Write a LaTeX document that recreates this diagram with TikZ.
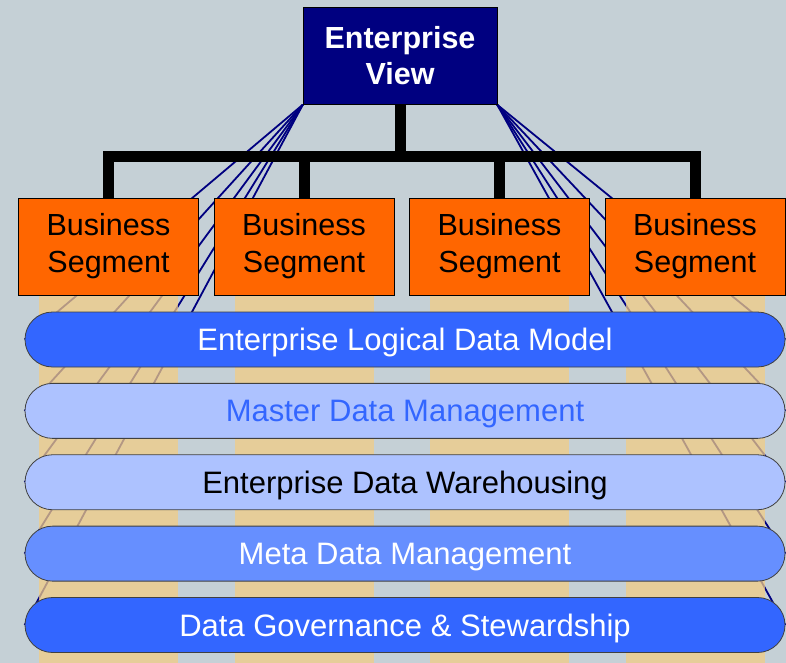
\documentclass[tikz,border=0pt]{standalone}
\usepackage{fontspec}
\setmainfont{Liberation Sans}
\usetikzlibrary{positioning}
\definecolor{bgGray}{RGB}{197,208,214}
\definecolor{evNavy}{RGB}{0,0,128}
\definecolor{segOrange}{RGB}{255,102,0}
\definecolor{colTan}{RGB}{242,204,133}
\definecolor{bandBlue}{RGB}{51,102,255}
\definecolor{bandLight}{RGB}{173,194,255}
\definecolor{bandMid}{RGB}{102,143,255}
\pgfdeclarelayer{bottom}
\pgfdeclarelayer{back}
\pgfsetlayers{bottom,back,main}

\tikzset{
  evbox/.style={draw=black, fill=evNavy, text=white, inner sep=0pt, align=center,
    minimum width=194pt, minimum height=97pt, font=\bfseries\fontsize{30.5}{36}\selectfont},
  segbox/.style={draw=black, fill=segOrange, inner sep=0pt, align=center,
    minimum width=180pt, minimum height=97pt, font=\fontsize{30.5}{37}\selectfont},
  band/.style={draw=black!75, line width=0.8pt, rounded corners=27.5pt, inner sep=0pt,
    minimum width=760pt, minimum height=55pt, text depth=0pt,
    font=\fontsize{31}{36}\selectfont},
  fanline/.style={evNavy, line width=1.8pt},
  treeline/.style={black, line width=11pt},
}

\begin{document}
\begin{tikzpicture}[x=1pt, y=-1pt]
\useasboundingbox (0,0) rectangle (786,663);
\begin{pgfonlayer}{bottom}
  \fill[bgGray] (0,0) rectangle (786,663);
\end{pgfonlayer}

\node[evbox] (ev) at (400,56) {Enterprise\\View};

\foreach \i/\x in {1/108.5, 2/304, 3/499.5, 4/695}
  \node[segbox] (seg\i) at (\x,246.5) {Business\\Segment};

% layers under the segments
\foreach \i/\txt/\fc/\tc in {1/Enterprise Logical Data Model/bandBlue/white,
    2/Master Data Management/bandLight/bandBlue,
    3/Enterprise Data Warehousing/bandLight/black,
    4/Meta Data Management/bandMid/white,
    5/Data Governance \& Stewardship/bandBlue/white}
  \node[band, fill=\fc, text=\tc] (band\i) at (405,{339.5+71.375*(\i-1)}) {\txt};

% tree
\coordinate (bar) at (400,157);
\draw[treeline] (ev.south) -- (bar);
\draw[treeline] (seg1.north) |- (bar) -| (seg4.north);
\draw[treeline] (seg2.north) -- (seg2.north |- bar);
\draw[treeline] (seg3.north) -- (seg3.north |- bar);

\begin{pgfonlayer}{back}
  \foreach \i in {1,...,5} {
    \draw[fanline] (ev.south west) -- (band\i.west);
    \draw[fanline] (ev.south east) -- (band\i.east);
  }
  \foreach \i in {1,...,4}
    \fill[colTan, fill opacity=0.74] ([xshift=-69.5pt]seg\i.south) rectangle ++(139,368);
\end{pgfonlayer}
\end{tikzpicture}
\end{document}
